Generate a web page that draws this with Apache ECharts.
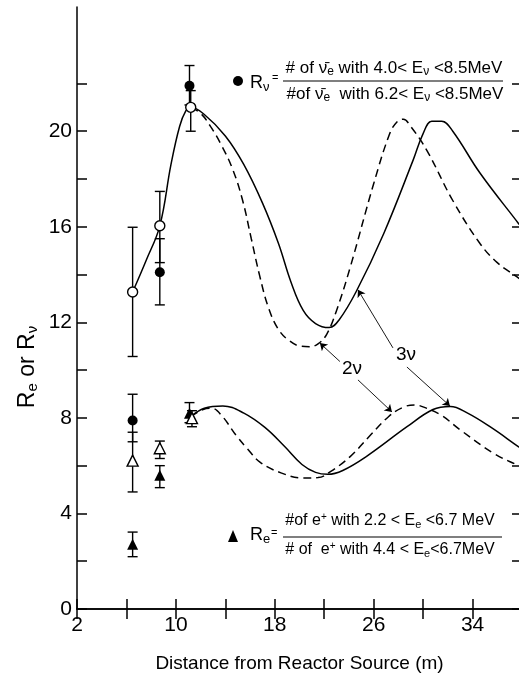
<!DOCTYPE html>
<html>
<head>
<meta charset="utf-8">
<script src="https://cdn.jsdelivr.net/npm/echarts@6/dist/echarts.min.js"></script>
<style>
  html, body { margin: 0; padding: 0; background: #fff; }
  #main { width: 519px; height: 675px; }
</style>
</head>
<body>
<div id="main"></div>
<script>
// curves: [distance (m), ratio]
var rv3nu = [[6.5,13.27],[7.6,14.6],[8.7,16.04],[9.6,18.6],[10.3,20.2],[10.8,20.85],[11.2,21.0],
  [12.3,20.7],[14.0,19.8],[15.5,18.6],[17.0,17.0],[18.3,15.3],[19.3,13.7],[20.3,12.5],[21.3,11.95],
  [22.4,11.78],[23.2,12.1],[24.6,13.3],[26.8,15.7],[29.2,18.8],[30.0,19.9],[30.7,20.42],[31.5,20.42],
  [32.4,20.0],[34.6,18.25],[37.7,16.15],[38,15.95]];
var rv2nu = [[11.2,21.0],[12.0,20.75],[12.8,20.2],[13.7,19.4],[14.6,18.4],[15.4,17.1],[16.1,15.5],
  [16.8,13.9],[17.5,12.6],[18.3,11.7],[19.2,11.22],[20.1,11.0],[20.8,10.98],[21.5,11.1],[22.2,11.5],
  [23.0,12.5],[24.1,14.3],[26.0,17.8],[27.3,19.9],[27.9,20.4],[28.4,20.5],[29.0,20.2],[30.3,19.2],
  [32.4,17.1],[34.6,15.3],[36.0,14.5],[37.6,13.9],[38,13.75]];
var re3nu = [[11.2,8.05],[12.3,8.4],[13.8,8.5],[15.5,8.2],[17.2,7.6],[18.8,6.8],[20.2,6.05],
  [21.3,5.72],[22.3,5.64],[23.5,5.8],[25.4,6.38],[28.7,7.63],[30.8,8.35],[32.2,8.48],[33.6,8.2],
  [35.5,7.6],[37.7,6.8],[38,6.7]];
var re2nu = [[11.2,8.05],[12.2,8.35],[12.9,8.4],[13.7,8.1],[14.9,7.25],[15.8,6.7],[16.8,6.15],
  [18.5,5.7],[20.3,5.48],[21.5,5.5],[22.5,5.75],[24.1,6.38],[25.6,7.2],[27.2,8.05],[28.4,8.45],
  [29.3,8.54],[30.3,8.4],[31.5,8.1],[33.0,7.5],[35.7,6.52],[37.6,6.03],[38,5.95]];

// measured points: [distance, value, low, high]
var rvFilled = [[6.5,7.89,7.0,8.99],[8.7,14.1,12.73,15.5],[11.1,21.9,21.1,22.75]];
var rvOpen = [[6.5,13.27,10.57,15.98],[8.7,16.04,14.5,17.48],[11.2,21.0,20.0,21.7]];
var reFilled = [[6.5,2.71,2.19,3.22],[8.7,5.6,5.08,6.0],[11.1,8.19,7.8,8.64]];
var reOpen = [[6.5,6.21,4.9,7.4],[8.7,6.73,6.3,7.03],[11.3,7.99,7.63,8.3]];

// arrows from the 2ν / 3ν labels
var arrows = [
  [[23.27,10.36],[21.65,11.13]],
  [[24.73,9.59],[27.48,8.25]],
  [[27.56,10.93],[24.73,13.36]],
  [[28.69,10.13],[32.17,8.5]]
];

var xTicks = [2,6,10,14,18,22,26,30,34,38];
var xLabels = [2,10,18,26,34];
var yTicks = [0,2,4,6,8,10,12,14,16,18,20,22];
var yLabels = [0,4,8,12,16,20];

var FONT = '"Liberation Sans", Arial, sans-serif';

var myChart = echarts.init(document.getElementById('main'), null, {renderer: 'canvas'});

function errRender(params, api) {
  var x = api.value(0);
  var lo = api.coord([x, api.value(2)]);
  var hi = api.coord([x, api.value(3)]);
  var st = {stroke: '#000', lineWidth: 1.4};
  return {
    type: 'group',
    children: [
      {type: 'line', shape: {x1: lo[0], y1: lo[1], x2: hi[0], y2: hi[1]}, style: st},
      {type: 'line', shape: {x1: lo[0] - 5, y1: lo[1], x2: lo[0] + 5, y2: lo[1]}, style: st},
      {type: 'line', shape: {x1: hi[0] - 5, y1: hi[1], x2: hi[0] + 5, y2: hi[1]}, style: st}
    ]
  };
}

function errSeries(data) {
  return {
    type: 'custom', renderItem: errRender, data: data,
    encode: {x: 0, y: [2, 3]}, z: 3, silent: true
  };
}

function curve(data, dashed) {
  return {
    type: 'line', data: data, smooth: 0.4, showSymbol: false, z: 2, silent: true,
    lineStyle: {color: '#000', width: 1.5, type: dashed ? [8, 5] : 'solid'}
  };
}

function points(data, sym, size, open) {
  return {
    type: 'scatter', data: data, symbol: sym, symbolSize: size, z: 4, silent: true,
    itemStyle: open ? {color: '#fff', borderColor: '#000', borderWidth: 1.4, opacity: 1}
                    : {color: '#000', opacity: 1}
  };
}

function axisBase(pos, show) {
  return {
    position: pos,
    axisLine: {show: true, lineStyle: {color: '#000', width: 1.5}},
    axisTick: {show: true, inside: true, length: 10, lineStyle: {color: '#000', width: 1.5}},
    splitLine: {show: false},
    axisLabel: {show: show}
  };
}

var xBottom = axisBase('bottom', true);
xBottom.type = 'value'; xBottom.min = 2; xBottom.max = 38; xBottom.interval = 4;
xBottom.axisTick.customValues = xTicks;
xBottom.axisLabel = {show: true, customValues: xLabels, color: '#000', fontSize: 21,
  fontFamily: FONT, margin: 6};
xBottom.name = 'Distance from Reactor Source (m)';
xBottom.nameLocation = 'middle';
xBottom.nameGap = 45;
xBottom.nameTextStyle = {color: '#000', fontSize: 19, fontFamily: FONT};

var xTop = axisBase('top', false);
xTop.type = 'value'; xTop.min = 2; xTop.max = 38; xTop.interval = 4;
xTop.axisTick.customValues = xTicks;

var yLeft = axisBase('left', true);
yLeft.type = 'value'; yLeft.min = 0; yLeft.max = 25.2; yLeft.interval = 2;
yLeft.axisTick.customValues = yTicks;
yLeft.axisLabel = {show: true, customValues: yLabels, color: '#000', fontSize: 21,
  fontFamily: FONT, margin: 5};

var yRight = axisBase('right', false);
yRight.type = 'value'; yRight.min = 0; yRight.max = 25.2; yRight.interval = 2;
yRight.axisTick.customValues = yTicks;

function ftext(x, y, s, size, align) {
  var sz = size || 17;
  return {
    type: 'text', x: x, y: y, silent: true,
    style: {text: s, fill: '#000', font: sz + 'px ' + FONT,
      align: align || 'left', verticalAlign: 'middle',
      rich: {
        s: {fontSize: Math.round(sz * 0.7), fontFamily: FONT, padding: [8, 0, 0, 0]},
        p: {fontSize: Math.round(sz * 0.65), fontFamily: FONT, padding: [0, 0, 7, 0]}
      }}
  };
}

var option = {
  animation: false,
  grid: {left: 77, top: 7, width: 445, height: 602, containLabel: false, outerBoundsMode: 'none'},
  xAxis: [xBottom, xTop],
  yAxis: [yLeft, yRight],
  series: [
    curve(rv3nu, false), curve(rv2nu, true), curve(re3nu, false), curve(re2nu, true),
    errSeries(rvFilled), errSeries(rvOpen), errSeries(reFilled), errSeries(reOpen),
    points(rvFilled, 'circle', 10, false),
    points(rvOpen, 'circle', 10, true),
    points(reFilled, 'triangle', 11, false),
    points(reOpen, 'triangle', 11, true),
    {type: 'lines', coordinateSystem: 'cartesian2d', polyline: false, silent: true,
      data: arrows.map(function (a) { return {coords: a}; }),
      symbol: ['none', 'arrow'], symbolSize: 7,
      lineStyle: {color: '#000', width: 0.9, opacity: 1}, z: 3}
  ],
  graphic: [
    // y axis title
    {type: 'text', x: 28, y: 367, rotation: Math.PI / 2, silent: true,
      style: {text: 'R{s|e} or R{s|ν}', fill: '#000', font: '23px ' + FONT,
        align: 'center', verticalAlign: 'middle',
        rich: {s: {fontSize: 15, fontFamily: FONT, padding: [10, 0, 0, 0]}}}},
    // R_nu formula
    {type: 'circle', silent: true, shape: {cx: 238, cy: 81, r: 5}, style: {fill: '#000'}},
    ftext(250, 83, 'R{s|ν}', 18),
    ftext(272, 78, '=', 11),
    ftext(394, 68, '# of ν̄{s|e} with 4.0< E{s|ν} <8.5MeV', 17, 'center'),
    {type: 'line', silent: true, shape: {x1: 283, y1: 81, x2: 503, y2: 81},
      style: {stroke: '#000', lineWidth: 1.2}},
    ftext(395, 94, '#of ν̄{s|e}  with 6.2< E{s|ν} <8.5MeV', 17, 'center'),
    // R_e formula
    {type: 'polygon', silent: true, shape: {points: [[233, 530], [228, 542], [238, 542]]},
      style: {fill: '#000'}},
    ftext(250, 535, 'R{s|e}', 18),
    ftext(271, 533, '=', 11),
    ftext(390, 521, '#of e{p|+} with 2.2 < E{s|e} <6.7 MeV', 16, 'center'),
    {type: 'line', silent: true, shape: {x1: 283, y1: 537, x2: 502, y2: 537},
      style: {stroke: '#000', lineWidth: 1.2}},
    ftext(390, 550, '# of  e{p|+} with 4.4 < E{s|e}<6.7MeV', 16, 'center'),
    // labels of the curves
    ftext(352, 369, '2ν', 19, 'center'),
    ftext(406, 355, '3ν', 19, 'center')
  ]
};

myChart.setOption(option);
</script>
</body>
</html>
